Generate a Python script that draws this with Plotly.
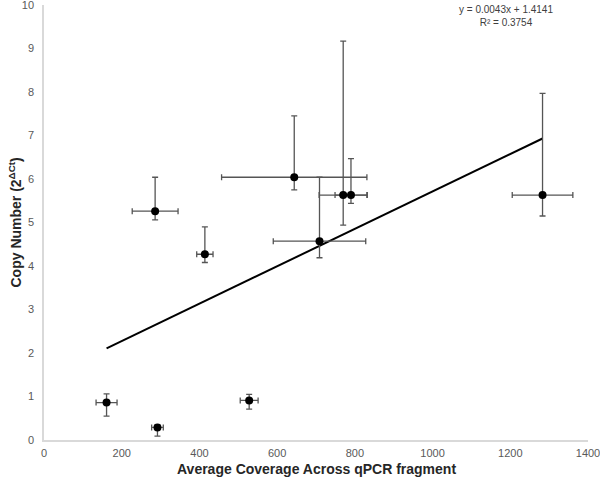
import plotly.graph_objects as go

# Average coverage (x) and copy number (y) with asymmetric error bars
coverage = [161, 286, 292, 414, 528, 644, 709, 770, 790, 1283]
coverage_err = [27, 59, 15, 21, 23, 187, 119, 62, 41, 78]
copy_number = [0.86, 5.26, 0.29, 4.27, 0.91, 6.04, 4.57, 5.63, 5.63, 5.63]
copy_err_up = [0.20, 0.78, 0.06, 0.63, 0.14, 1.41, 1.47, 3.54, 0.84, 2.34]
copy_err_down = [0.31, 0.20, 0.20, 0.19, 0.20, 0.29, 0.38, 0.69, 0.19, 0.48]

# Linear trendline from the reference
slope = 0.0043
intercept = 1.4141
r_squared = 0.3754

x_ticks = [0, 200, 400, 600, 800, 1000, 1200, 1400]
y_ticks = list(range(0, 11))

FONT = "Liberation Sans, Arial, Helvetica, sans-serif"
TITLE_FONT = dict(family=FONT, size=14, color="#262626")

fig = go.Figure()

# Trendline over the range of the data
x_line = [min(coverage), max(coverage)]
y_line = [slope * x + intercept for x in x_line]
fig.add_trace(go.Scatter(x=x_line, y=y_line, mode="lines",
                         line=dict(color="black", width=2), showlegend=False,
                         hoverinfo="skip"))

fig.add_trace(go.Scatter(
    x=coverage, y=copy_number, mode="markers",
    marker=dict(size=8, color="black"),
    error_x=dict(type="data", array=coverage_err, color="#555555", thickness=1.3, width=3),
    error_y=dict(type="data", symmetric=False, array=copy_err_up, arrayminus=copy_err_down,
                 color="#555555", thickness=1.3, width=3),
    showlegend=False,
))

fig.add_annotation(
    x=1190, y=9.75, xref="x", yref="y",
    text=f"y = {slope}x + {intercept}<br>R² = {r_squared}",
    showarrow=False, align="center",
    font=dict(family=FONT, size=10, color="#404040"),
)

# Axis titles as annotations so the plot area stays fixed
fig.add_annotation(x=0.5, y=0, xref="paper", yref="paper", yshift=-29, yanchor="middle",
                   text="<b>Average Coverage Across qPCR fragment</b>",
                   showarrow=False, font=TITLE_FONT)
fig.add_annotation(x=0, y=0.5, xref="paper", yref="paper", xshift=-29, xanchor="center",
                   text="<b>Copy Number (2<sup>ΔCt</sup>)</b>", textangle=-90,
                   showarrow=False, font=TITLE_FONT)

fig.update_layout(
    width=600, height=478,
    margin=dict(l=44, r=12, t=5, b=38),
    plot_bgcolor="white", paper_bgcolor="white",
    font=dict(family=FONT, color="#595959", size=11),
    xaxis=dict(range=[0, 1400], tickvals=x_ticks, showgrid=False, zeroline=False,
               showline=True, linecolor="#d9d9d9", linewidth=1.5, ticks="",
               ticklabelstandoff=2, automargin=False, ticklabeloverflow="allow"),
    yaxis=dict(range=[0, 10], tickvals=y_ticks, showgrid=False, zeroline=False,
               showline=True, linecolor="#d9d9d9", linewidth=1.5, ticks="",
               ticklabelstandoff=6, automargin=False, ticklabeloverflow="allow"),
)

fig.write_html("out.html", config={"displayModeBar": False},
               post_script="document.body.style.margin = '0';")
